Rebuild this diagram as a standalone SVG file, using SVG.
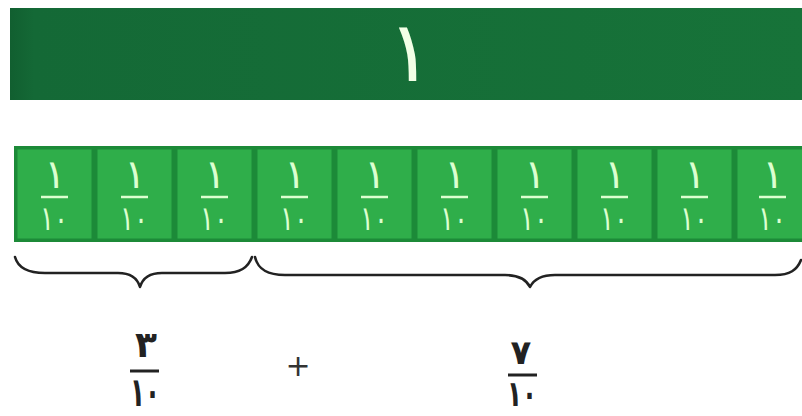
<svg xmlns="http://www.w3.org/2000/svg" width="802" height="416" viewBox="0 0 802 416">
<defs>
<style>
.tile{fill:#2fae4a;stroke:#1c8a38;stroke-width:3}
.tt{font-family:"DejaVu Sans",sans-serif;fill:#dcffd0;text-anchor:middle}
.n{font-size:40px}
.d{font-size:34px}
.tbar{stroke:#dcffd0;stroke-width:2.5}
.bt{font-family:"DejaVu Sans",sans-serif;font-weight:bold;fill:#222;text-anchor:middle}
.bbar{stroke:#222;stroke-width:3}
.brace{fill:none;stroke:#222;stroke-width:2.6;stroke-linecap:round;stroke-linejoin:round}
</style>
<linearGradient id="g1" x1="0" y1="0" x2="1" y2="0">
<stop offset="0" stop-color="#115f30"/>
<stop offset="0.03" stop-color="#146936"/>
<stop offset="1" stop-color="#177339"/>
</linearGradient>
</defs>
<rect width="802" height="416" fill="#ffffff"/>
<g id="whole">
<rect x="10" y="8" width="800" height="92" fill="url(#g1)"/>
<text x="410" y="81" font-family="DejaVu Sans,sans-serif" font-size="84" fill="#f2ffe6" text-anchor="middle">١</text>
</g>
<rect x="14" y="146" width="800" height="96" fill="#1c8a38"/>
<g id="t1"><rect class="tile" x="16" y="148" width="77" height="92"/><text class="tt n" x="55" y="188">١</text><line class="tbar" x1="41" y1="197" x2="68" y2="197"/><text class="tt d" x="54" y="230" textLength="28" lengthAdjust="spacingAndGlyphs">١٠</text></g>
<g id="t2"><rect class="tile" x="96" y="148" width="77" height="92"/><text class="tt n" x="135" y="188">١</text><line class="tbar" x1="121" y1="197" x2="148" y2="197"/><text class="tt d" x="134" y="230" textLength="28" lengthAdjust="spacingAndGlyphs">١٠</text></g>
<g id="t3"><rect class="tile" x="176" y="148" width="77" height="92"/><text class="tt n" x="215" y="188">١</text><line class="tbar" x1="201" y1="197" x2="228" y2="197"/><text class="tt d" x="214" y="230" textLength="28" lengthAdjust="spacingAndGlyphs">١٠</text></g>
<g id="t4"><rect class="tile" x="256" y="148" width="77" height="92"/><text class="tt n" x="295" y="188">١</text><line class="tbar" x1="281" y1="197" x2="308" y2="197"/><text class="tt d" x="294" y="230" textLength="28" lengthAdjust="spacingAndGlyphs">١٠</text></g>
<g id="t5"><rect class="tile" x="336" y="148" width="77" height="92"/><text class="tt n" x="375" y="188">١</text><line class="tbar" x1="361" y1="197" x2="388" y2="197"/><text class="tt d" x="374" y="230" textLength="28" lengthAdjust="spacingAndGlyphs">١٠</text></g>
<g id="t6"><rect class="tile" x="416" y="148" width="77" height="92"/><text class="tt n" x="455" y="188">١</text><line class="tbar" x1="441" y1="197" x2="468" y2="197"/><text class="tt d" x="454" y="230" textLength="28" lengthAdjust="spacingAndGlyphs">١٠</text></g>
<g id="t7"><rect class="tile" x="496" y="148" width="77" height="92"/><text class="tt n" x="535" y="188">١</text><line class="tbar" x1="521" y1="197" x2="548" y2="197"/><text class="tt d" x="534" y="230" textLength="28" lengthAdjust="spacingAndGlyphs">١٠</text></g>
<g id="t8"><rect class="tile" x="576" y="148" width="77" height="92"/><text class="tt n" x="615" y="188">١</text><line class="tbar" x1="601" y1="197" x2="628" y2="197"/><text class="tt d" x="614" y="230" textLength="28" lengthAdjust="spacingAndGlyphs">١٠</text></g>
<g id="t9"><rect class="tile" x="656" y="148" width="77" height="92"/><text class="tt n" x="695" y="188">١</text><line class="tbar" x1="681" y1="197" x2="708" y2="197"/><text class="tt d" x="694" y="230" textLength="28" lengthAdjust="spacingAndGlyphs">١٠</text></g>
<g id="t10"><rect class="tile" x="736" y="148" width="77" height="92"/><text class="tt n" x="773" y="188">١</text><line class="tbar" x1="759" y1="197" x2="786" y2="197"/><text class="tt d" x="772" y="230" textLength="28" lengthAdjust="spacingAndGlyphs">١٠</text></g>
<g id="connectors">
<path class="brace" d="M15,257 C18,268 28,273 45,273 L118,273 C130,273 137,277 140,287 C143,277 150,273 162,273 L225,273 C240,273 248,268 252,257"/>
<path class="brace" d="M255,257 C258,270 268,275 285,275 L505,275 C518,275 526,279 530,287 C534,279 542,275 555,275 L775,275 C790,275 797,270 801,260"/>
</g>
<g id="f1">
<text class="bt" x="146" y="357" font-size="36">٣</text>
<line class="bbar" x1="130" y1="371" x2="159" y2="371"/>
<text class="bt" x="145" y="406" font-size="40" textLength="30" lengthAdjust="spacingAndGlyphs">١٠</text>
</g>
<g id="plus"><text x="298" y="376" font-family="DejaVu Sans,sans-serif" font-size="30" fill="#333" text-anchor="middle">+</text></g>
<g id="f2">
<text class="bt" x="521" y="364" font-size="34">٧</text>
<line class="bbar" x1="508" y1="375" x2="537" y2="375"/>
<text class="bt" x="522" y="406" font-size="36" textLength="30" lengthAdjust="spacingAndGlyphs">١٠</text>
</g>
</svg>
